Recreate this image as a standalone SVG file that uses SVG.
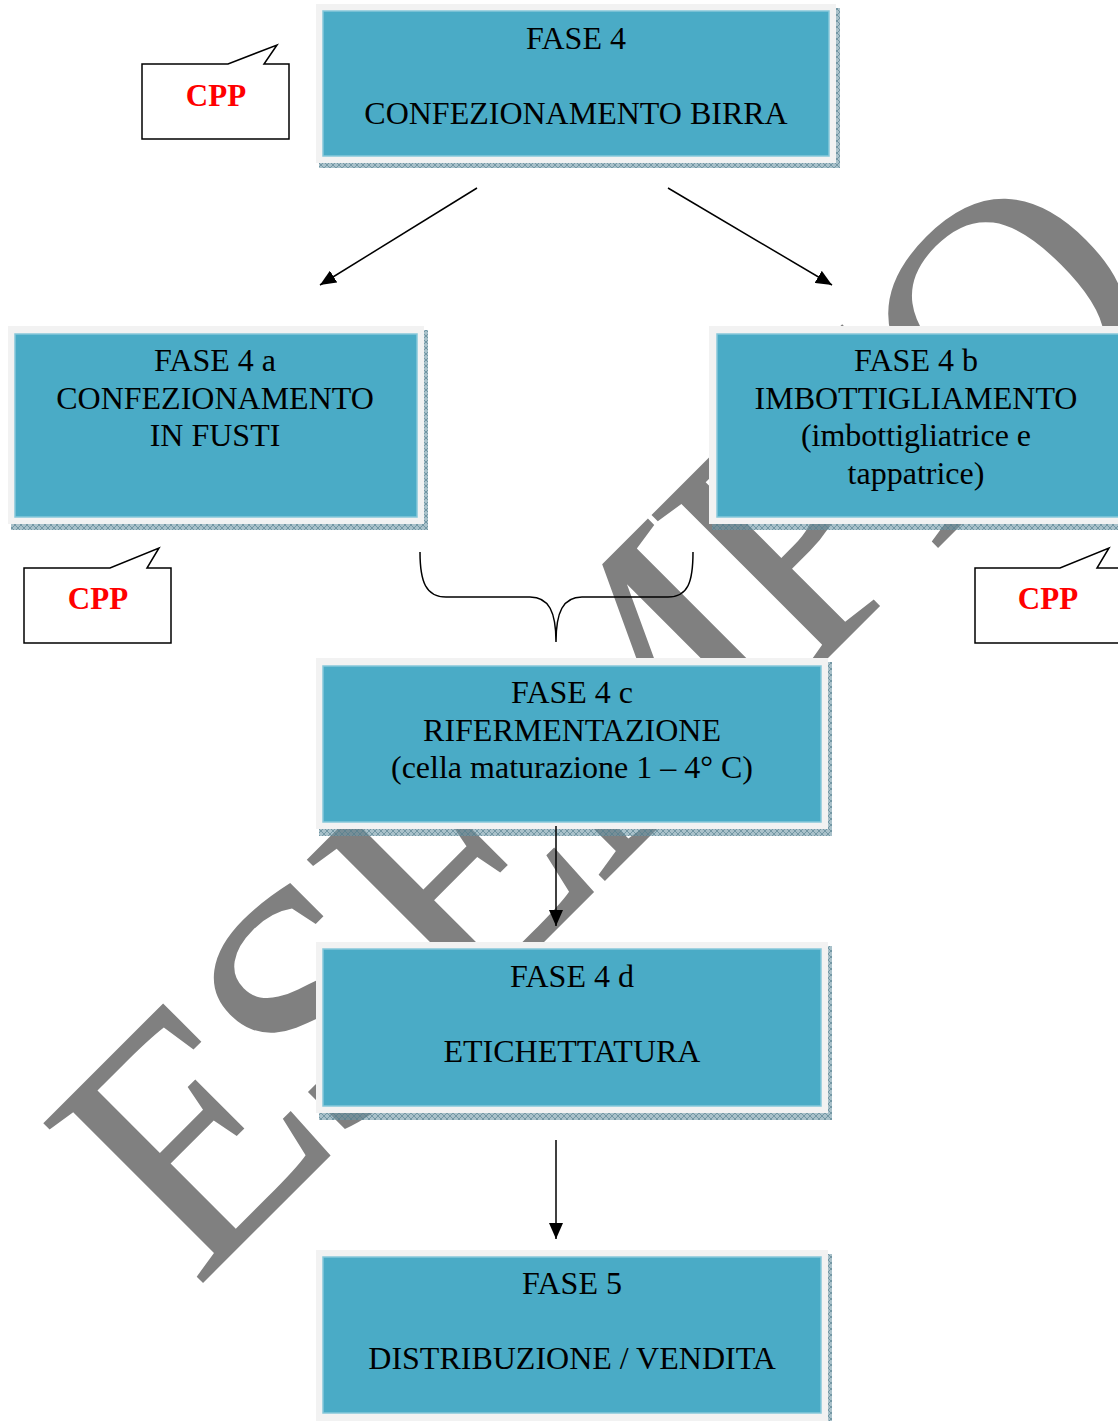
<svg xmlns="http://www.w3.org/2000/svg" width="1118" height="1421" viewBox="0 0 1118 1421">
<defs>
<pattern id="hatch" width="6" height="6" patternUnits="userSpaceOnUse">
<rect width="6" height="6" fill="#6f98a6" fill-opacity="0.6"/>
<path d="M0,0 L6,6 M6,0 L0,6" stroke="#4f7c8b" stroke-opacity="0.6" stroke-width="1"/>
</pattern>
<marker id="arrL" viewBox="0 0 16 14" refX="16" refY="7" markerWidth="16" markerHeight="14" markerUnits="userSpaceOnUse" orient="auto">
<path d="M0,0 L16,7 L0,14 Z" fill="#000"/>
</marker>
</defs>
<style>
.wm{font-family:"Liberation Serif","Times New Roman",serif;fill:#808080;}
.shadow{fill:url(#hatch);}
.frame{fill:#f2f2f2;}
.box{fill:#4aabc6;stroke:#86c8da;stroke-width:1.5;}
.t{font-family:"Liberation Serif","Times New Roman",serif;font-size:32px;fill:#000;text-anchor:middle;}
.cpp{font-family:"Liberation Serif","Times New Roman",serif;font-size:31px;font-weight:bold;fill:#ff0000;text-anchor:middle;}
.call{fill:#fff;stroke:#000;stroke-width:1.5;}
.conn{fill:none;stroke:#000;stroke-width:1.5;}
</style>
<rect width="1118" height="1421" fill="#fff"/>
<text class="wm" x="196" y="1290" font-size="345" letter-spacing="-15" transform="rotate(-45 196 1290)">ESEMPIO</text>

<g id="fase4">
<rect class="shadow" x="319" y="8" width="521" height="160"/>
<rect class="frame" x="316" y="4" width="520" height="159"/>
<rect class="box" x="323" y="11" width="506" height="145"/>
<text class="t" x="576" y="49">FASE 4</text>
<text class="t" x="576" y="124">CONFEZIONAMENTO BIRRA</text>
</g>

<g id="fase4a">
<rect class="shadow" x="11" y="330" width="417" height="200"/>
<rect class="frame" x="8" y="326" width="416" height="198"/>
<rect class="box" x="15" y="334" width="402" height="183"/>
<text class="t" x="215" y="371">FASE 4 a</text>
<text class="t" x="215" y="409">CONFEZIONAMENTO</text>
<text class="t" x="215" y="446">IN FUSTI</text>
</g>

<g id="fase4b">
<rect class="shadow" x="712" y="330" width="420" height="200"/>
<rect class="frame" x="709" y="326" width="420" height="198"/>
<rect class="box" x="717" y="334" width="410" height="183"/>
<text class="t" x="916" y="371">FASE 4 b</text>
<text class="t" x="916" y="409">IMBOTTIGLIAMENTO</text>
<text class="t" x="916" y="446">(imbottigliatrice e</text>
<text class="t" x="916" y="484">tappatrice)</text>
</g>

<g id="fase4c">
<rect class="shadow" x="319" y="662" width="513" height="174"/>
<rect class="frame" x="316" y="658" width="512" height="171"/>
<rect class="box" x="323" y="666" width="498" height="156"/>
<text class="t" x="572" y="703">FASE 4 c</text>
<text class="t" x="572" y="741">RIFERMENTAZIONE</text>
<text class="t" x="572" y="778">(cella maturazione 1 – 4° C)</text>
</g>

<g id="fase4d">
<rect class="shadow" x="319" y="946" width="513" height="174"/>
<rect class="frame" x="316" y="942" width="512" height="171"/>
<rect class="box" x="323" y="949" width="498" height="157"/>
<text class="t" x="572" y="987">FASE 4 d</text>
<text class="t" x="572" y="1062">ETICHETTATURA</text>
</g>

<g id="fase5">
<rect class="shadow" x="319" y="1254" width="513" height="174"/>
<rect class="frame" x="316" y="1250" width="512" height="171"/>
<rect class="box" x="323" y="1257" width="498" height="156"/>
<text class="t" x="572" y="1294">FASE 5</text>
<text class="t" x="572" y="1369">DISTRIBUZIONE / VENDITA</text>
</g>

<g id="cpp1">
<path class="call" d="M142,64 L228,64 L277,45 L264,64 L289,64 L289,139 L142,139 Z"/>
<text class="cpp" x="216" y="106">CPP</text>
</g>
<g id="cpp2">
<path class="call" d="M24,568 L110,568 L159,548 L147,568 L171,568 L171,643 L24,643 Z"/>
<text class="cpp" x="98" y="609">CPP</text>
</g>
<g id="cpp3">
<path class="call" d="M975,568 L1060,568 L1109,548 L1097,568 L1122,568 L1122,643 L975,643 Z"/>
<text class="cpp" x="1048" y="609">CPP</text>
</g>

<g id="connectors">
<line class="conn" x1="477" y1="188" x2="320" y2="285" marker-end="url(#arrL)"/>
<line class="conn" x1="668" y1="188" x2="832" y2="285" marker-end="url(#arrL)"/>
<line class="conn" x1="556" y1="826" x2="556" y2="926" marker-end="url(#arrL)"/>
<line class="conn" x1="556" y1="1140" x2="556" y2="1239" marker-end="url(#arrL)"/>
<path class="conn" d="M420,552 C420,582 426,597 446,597 L530,597 C549,597 556,612 556,642 C556,612 563,597 582,597 L668,597 C688,597 693,582 693,552"/>
</g>
</svg>
